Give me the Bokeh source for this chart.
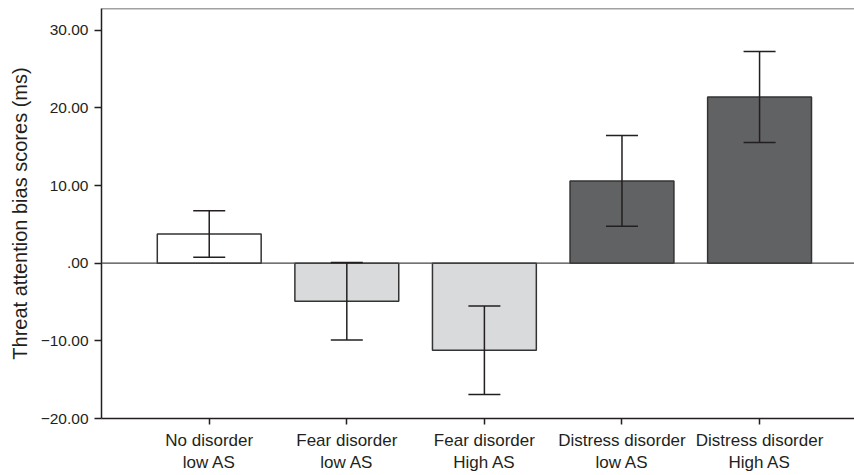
from bokeh.plotting import figure
from bokeh.models import (FixedTicker, Whisker, ColumnDataSource, Span, TeeHead,
                          Range1d)
from bokeh.embed import file_html
from bokeh.resources import INLINE

categories = ["No disorder\nlow AS", "Fear disorder\nlow AS", "Fear disorder\nHigh AS",
              "Distress disorder\nlow AS", "Distress disorder\nHigh AS"]
means = [3.75, -4.9, -11.2, 10.6, 21.4]
errors = [3.0, 5.0, 5.7, 5.85, 5.85]
fills = ["#ffffff", "#d9dadb", "#d9dadb", "#616264", "#616264"]
y_ticks = [-20, -10, 0, 10, 20, 30]
y_tick_labels = ["\u221220.00", "\u221210.00", ".00", "10.00", "20.00", "30.00"]
y_title = "Threat attention bias scores (ms)"

xs = list(range(len(categories)))
src = ColumnDataSource(dict(
    x=xs, top=means, fill=fills,
    upper=[m + e for m, e in zip(means, errors)],
    lower=[m - e for m, e in zip(means, errors)],
))

INK = "#231f20"
FONT = "Liberation Sans"

p = figure(width=854, height=475, output_backend="svg", toolbar_location=None,
           x_range=Range1d(-0.783, 4.69), y_range=Range1d(-20, 32.8),
           min_border_left=101, min_border_right=0, min_border_top=8,
           min_border_bottom=57)
p.outline_line_color = None
p.xgrid.visible = False
p.ygrid.visible = False
p.background_fill_color = "white"

p.vbar(x="x", width=0.755, top="top", bottom=0, fill_color="fill",
       line_color="#333333", line_width=1.5, source=src)

p.add_layout(Span(location=0, dimension="width", line_color="#444444", line_width=1.3))
p.add_layout(Span(location=32.8, dimension="width", line_color="#444444", line_width=1.5))

w = Whisker(base="x", upper="upper", lower="lower", source=src, level="overlay",
            line_color=INK, line_width=1.5,
            upper_head=TeeHead(size=32, line_color=INK, line_width=1.5),
            lower_head=TeeHead(size=32, line_color=INK, line_width=1.5))
p.add_layout(w)

# y axis
p.yaxis.ticker = FixedTicker(ticks=y_ticks)
p.yaxis.major_label_overrides = {t: l for t, l in zip(y_ticks, y_tick_labels)}
p.yaxis.axis_label = y_title
p.yaxis.axis_label_text_font = FONT
p.yaxis.axis_label_text_font_style = "normal"
p.yaxis.axis_label_text_font_size = "20px"
p.yaxis.axis_label_text_color = INK
p.yaxis.axis_label_standoff = 7
p.yaxis.major_label_text_font = FONT
p.yaxis.major_label_text_font_size = "15.5px"
p.yaxis.major_label_text_color = INK
p.yaxis.major_label_standoff = 6
p.yaxis.axis_line_color = INK
p.yaxis.axis_line_width = 1.5
p.yaxis.major_tick_line_color = INK
p.yaxis.major_tick_line_width = 1.5
p.yaxis.major_tick_out = 7
p.yaxis.major_tick_in = 0
p.yaxis.minor_tick_line_color = None

# x axis
p.xaxis.ticker = FixedTicker(ticks=xs)
p.xaxis.major_label_overrides = {x: c for x, c in zip(xs, categories)}
p.xaxis.major_label_text_font = FONT
p.xaxis.major_label_text_font_size = "17px"
p.xaxis.major_label_text_color = INK
p.xaxis.major_label_standoff = 6
p.xaxis.axis_label_standoff = 0
p.xaxis.axis_line_color = INK
p.xaxis.axis_line_width = 1.5
p.xaxis.major_tick_line_color = INK
p.xaxis.major_tick_line_width = 1.5
p.xaxis.major_tick_out = 6
p.xaxis.major_tick_in = 0
p.xaxis.minor_tick_line_color = None

open("out.html", "w").write(file_html(p, INLINE))
